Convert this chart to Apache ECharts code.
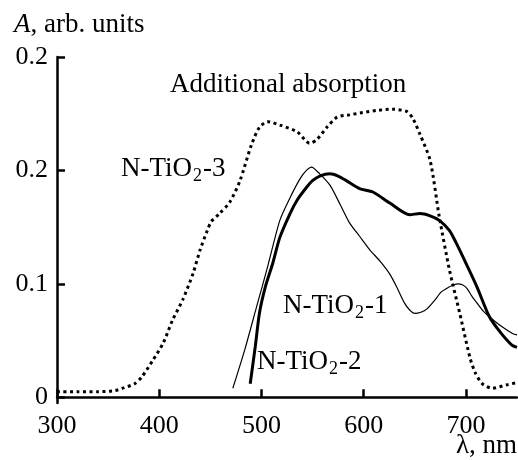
<!DOCTYPE html>
<html><head><meta charset="utf-8">
<script src="https://cdn.jsdelivr.net/npm/echarts@6/dist/echarts.min.js"></script>
<style>html,body{margin:0;padding:0;background:#fff}#c{width:518px;height:460px}</style>
</head><body><div id="c"></div>
<script>
// Data (wavelength nm, absorbance arb. units)
const wl3 = [300,320,340,357,364,376,383,394,404,413,423,433,440,447,451,459,469,479,490,498,506,518,535,547,554,564,574,586,599,614,628,642,648,655,665,674,684,694,704,709,716,726,740,750];
const a3  = [0.005,0.005,0.005,0.006,0.008,0.012,0.018,0.033,0.048,0.068,0.086,0.109,0.130,0.147,0.155,0.162,0.172,0.191,0.222,0.238,0.243,0.240,0.234,0.224,0.227,0.238,0.247,0.249,0.251,0.253,0.254,0.252,0.246,0.232,0.209,0.159,0.112,0.074,0.035,0.022,0.012,0.008,0.011,0.013];
const wl1 = [472,484,495,506,518,528,538,544,549,557,567,577,586,596,606,616,626,633,640,645,650,656,662,669,676,683,688,692,697,701,706,711,717,723,734,746,750];
const a1  = [0.008,0.043,0.079,0.115,0.156,0.176,0.193,0.200,0.203,0.197,0.187,0.170,0.154,0.142,0.130,0.120,0.108,0.096,0.083,0.077,0.074,0.075,0.078,0.085,0.093,0.097,0.099,0.100,0.099,0.096,0.089,0.083,0.076,0.071,0.063,0.056,0.055];
const wl2 = [489,494,498,504,511,518,528,535,544,550,557,567,575,583,596,609,626,645,655,665,674,684,690,697,711,723,734,745,750];
const a2  = [0.012,0.045,0.074,0.098,0.118,0.141,0.162,0.174,0.185,0.191,0.195,0.197,0.195,0.191,0.184,0.181,0.171,0.161,0.162,0.160,0.156,0.147,0.137,0.124,0.097,0.071,0.057,0.046,0.044];
const xTicks = [300,400,500,600,700];
const yTickValues = [0,0.1,0.2,0.3];
const yTickLabels = ['0','0.1','0.2','0.2'];

const pairs = (xs, ys) => xs.map((x,i)=>[x,ys[i]]);
const FONT = '"Liberation Serif","Times New Roman",serif';
const chart = echarts.init(document.getElementById('c'));
function subLabel(main, sub, tail, x, y){
  return {type:'text', left:x, top:y, style:{
    text:'{n|'+main+'}{s|'+sub+'}{n|'+tail+'}',
    rich:{n:{fontSize:27,fontFamily:FONT,fill:'#000',lineHeight:30},
          s:{fontSize:18,fontFamily:FONT,fill:'#000',lineHeight:30,padding:[14,1,0,1]}}}};
}
chart.setOption({
  animation:false,
  grid:{left:57,right:1,top:57,bottom:57},
  xAxis:{type:'value',min:300,max:750,interval:100,
    axisLine:{lineStyle:{color:'#000',width:2.5}},
    axisTick:{inside:true,length:8,lineStyle:{color:'#000',width:2.5},customValues:xTicks},
    axisLabel:{customValues:xTicks,color:'#000',fontSize:26,fontFamily:FONT,margin:10},
    splitLine:{show:false}},
  yAxis:{type:'value',min:-0.005,max:0.3,
    axisLine:{show:true,lineStyle:{color:'#000',width:2.5}},
    axisTick:{show:true,inside:true,length:8,lineStyle:{color:'#000',width:2.5},customValues:yTickValues},
    axisLabel:{customValues:yTickValues,color:'#000',fontSize:26,fontFamily:FONT,margin:9,
      formatter:(v)=>{const i=yTickValues.findIndex(t=>Math.abs(t-v)<1e-9);return i>=0?yTickLabels[i]:'';}},
    splitLine:{show:false}},
  series:[
    {type:'line',name:'N-TiO2-3',data:pairs(wl3,a3),smooth:0.25,showSymbol:false,
      lineStyle:{color:'#000',width:3,type:[3,3.5]}},
    {type:'line',name:'N-TiO2-1',data:pairs(wl1,a1),smooth:0.25,showSymbol:false,
      lineStyle:{color:'#000',width:1.2}},
    {type:'line',name:'N-TiO2-2',data:pairs(wl2,a2),smooth:0.25,showSymbol:false,
      lineStyle:{color:'#000',width:3}}
  ],
  graphic:[
    {type:'text',left:14,top:11,style:{text:'{i|A}{n|, arb. units}',
      rich:{i:{fontSize:27,fontFamily:FONT,fontStyle:'italic',fill:'#000'},n:{fontSize:27,fontFamily:FONT,fill:'#000'}}}},
    {type:'text',right:1,top:432,style:{text:'λ, nm',fontSize:27,fontFamily:FONT,fill:'#000'}},
    {type:'text',left:170,top:71,style:{text:'Additional absorption',fontSize:27,fontFamily:FONT,fill:'#000'}},
    subLabel('N-TiO','2','-3',121,153),
    subLabel('N-TiO','2','-1',283,290),
    subLabel('N-TiO','2','-2',257,346)
  ]
});
</script></body></html>
